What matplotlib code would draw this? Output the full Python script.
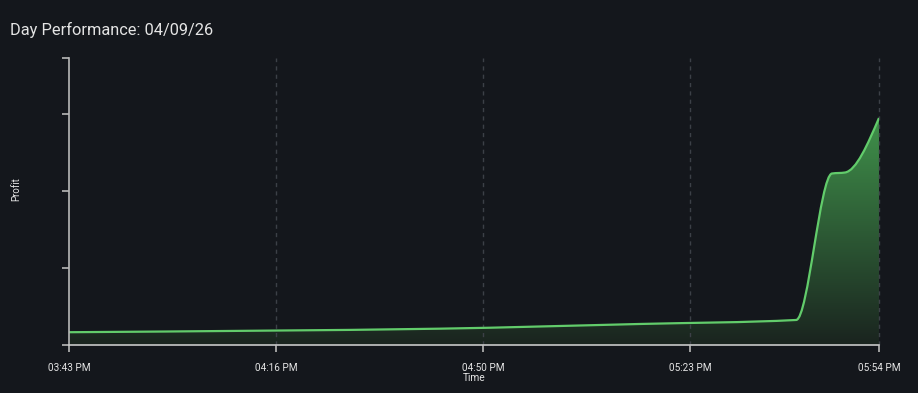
import numpy as np
import matplotlib
matplotlib.use("Agg")
import matplotlib.pyplot as plt
from matplotlib.path import Path
from matplotlib.patches import PathPatch
from datetime import datetime

# ---- data ----
title_text = "Day Performance: 04/09/26"
times = ["15:43:00", "16:14:00", "16:43:00", "17:15:18", "17:40:36",
         "17:46:24", "17:48:30", "17:54:00"]
profit = [16.6, 18.6, 21.2, 27.3, 32.5, 222.7, 224.0, 294.8]
tick_times = ["15:43:00", "16:16:30", "16:50:00", "17:23:30", "17:54:00"]
y_ticks = [0, 100, 200, 300]
y_max = 372.7

BG = "#14171c"
AXIS = "#b8b8b8"
GRID = "#3c4047"
TXT = "#e4e4e4"
LINE = "#62cc6b"

plt.rcParams['font.family'] = ['Roboto', 'DejaVu Sans']

t0 = datetime.strptime(times[0], "%H:%M:%S")
def to_min(s):
    return (datetime.strptime(s, "%H:%M:%S") - t0).total_seconds() / 60.0

x = np.array([to_min(s) for s in times])
y = np.array(profit, dtype=float)
xt = [to_min(s) for s in tick_times]
xt_labels = [datetime.strptime(s, "%H:%M:%S").strftime("%I:%M %p") for s in tick_times]

# monotone-x tangents (d3 curveMonotoneX) for Bezier control points
n = len(x)
h = np.diff(x)
s = np.diff(y) / h
m = np.zeros(n)
for i in range(1, n - 1):
    p = (s[i-1] * h[i] + s[i] * h[i-1]) / (h[i-1] + h[i])
    m[i] = (np.sign(s[i-1]) + np.sign(s[i])) * min(abs(s[i-1]), abs(s[i]), 0.5 * abs(p))
m[0] = (3 * s[0] - m[1]) / 2
m[-1] = (3 * s[-1] - m[-2]) / 2

verts = [(x[0], y[0])]
codes = [Path.MOVETO]
for i in range(n - 1):
    dx = (x[i+1] - x[i]) / 3
    verts += [(x[i] + dx, y[i] + dx * m[i]), (x[i+1] - dx, y[i+1] - dx * m[i+1]), (x[i+1], y[i+1])]
    codes += [Path.CURVE4] * 3
line_path = Path(verts, codes)

area_verts = [(x[0], 0)] + verts + [(x[-1], 0), (x[0], 0)]
area_codes = [Path.MOVETO, Path.LINETO] + codes[1:] + [Path.LINETO, Path.CLOSEPOLY]
area_path = Path(area_verts, area_codes)

W, H = 918, 393
fig = plt.figure(figsize=(W/100, H/100), dpi=100, facecolor=BG)
L, R, T, B = 69, 879, 58, 345
ax = fig.add_axes([L/W, 1 - B/H, (R-L)/W, (B-T)/H], facecolor=BG)
ax.set_xlim(x[0], x[-1])
ax.set_ylim(0, y_max)

# gradient fill
top_c = np.array([0x40, 0x92, 0x4b]) / 255
bot_c = np.array([0x1a, 0x24, 0x1f]) / 255
g = np.linspace(0, 1, 256)[:, None]
img = bot_c[None, :] + (top_c - bot_c)[None, :] * g
img = img[:, None, :].repeat(2, axis=1)
im = ax.imshow(img, extent=[x[0], x[-1], 0, y.max()], origin="lower",
               aspect="auto", zorder=1, interpolation="bilinear")
clip = PathPatch(area_path, transform=ax.transData, facecolor="none", edgecolor="none")
ax.add_patch(clip)
im.set_clip_path(clip)

ax.add_patch(PathPatch(line_path, facecolor="none", edgecolor=LINE, lw=1.6, zorder=3))

# vertical grid lines
for v in xt[1:]:
    ax.axvline(v, color=GRID, lw=1.0, ls=(0, (3, 3)), zorder=2, clip_on=False)

for sp in ["top", "right"]:
    ax.spines[sp].set_visible(False)
ax.spines["left"].set_color(AXIS)
ax.spines["left"].set_linewidth(1.2)
ax.spines["bottom"].set_color("#c8c8c8")
ax.spines["bottom"].set_linewidth(1.2)
ax.spines["bottom"].set_linestyle((0, (4, 1)))
ax.spines["bottom"].set_zorder(4)
ax.spines["left"].set_zorder(4)

ax.set_xticks(xt)
ax.set_xticklabels(xt_labels)
ax.set_yticks(y_ticks + [y_max])
ax.set_yticklabels([])
ax.tick_params(axis="x", colors=AXIS, length=5, width=1.2, pad=8,
               labelsize=7.2, labelcolor=TXT)
ax.tick_params(axis="y", colors=AXIS, length=5, width=1.2)

fig.text(474/W, 1 - 378/H, "Time", color=TXT, fontsize=7.3,
         ha="center", va="center")
fig.text(16/W, 1 - 189/H, "Profit", rotation=90, color=TXT, fontsize=7,
         ha="center", va="center")
fig.text(10/W, 1 - 30/H, title_text, color=TXT, fontsize=11.8,
         ha="left", va="center")

fig.savefig("out.png", dpi=100, facecolor=BG)
